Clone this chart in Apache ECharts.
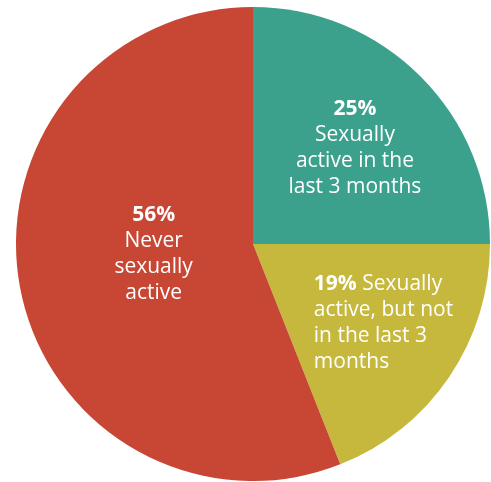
<!DOCTYPE html>
<html><head><meta charset="utf-8">
<script src="https://cdn.jsdelivr.net/npm/echarts@6/dist/echarts.min.js"></script>
<style>html,body{margin:0;padding:0;background:#fff}#c{width:491px;height:482px}</style>
</head><body><div id="c"></div>
<script>
const categories = ["Sexually active in the last 3 months", "Sexually active, but not in the last 3 months", "Never sexually active"];
const values = [25, 19, 56];
const labelTexts = [
  "{b|25%}\nSexually\nactive in the\nlast 3 months",
  "{bl|19%}{l| Sexually}\n{l|active, but not}\n{l|in the last 3}\n{l|months}",
  "{b|56%}\nNever\nsexually\nactive"
];
const colors = ["#3ba18c", "#c5b83d", "#c84634"];
const offsets = [[16, -10], [30, 11], [20, -13]];

const chart = echarts.init(document.getElementById('c'), null, {renderer: 'canvas'});
const base = {fontSize: 21, lineHeight: 26, color: '#fff', fontFamily: 'Open Sans'};
chart.setOption({
  animation: false,
  series: [{
    type: 'pie',
    center: [253, 244],
    radius: 237,
    startAngle: 90,
    clockwise: true,
    emphasis: {disabled: true},
    itemStyle: {borderWidth: 0},
    label: {
      show: true,
      position: 'inside',
      color: '#fff',
      fontFamily: 'Open Sans',
      fontSize: 21,
      lineHeight: 26,
      formatter: p => labelTexts[p.dataIndex],
      rich: {
        b: Object.assign({}, base, {fontWeight: 'bold'}),
        bl: Object.assign({}, base, {fontWeight: 'bold', align: 'left'}),
        l: Object.assign({}, base, {align: 'left'})
      }
    },
    labelLayout: p => ({dx: offsets[p.dataIndex][0], dy: offsets[p.dataIndex][1]}),
    data: categories.map((c, i) => ({name: c, value: values[i], itemStyle: {color: colors[i]}}))
  }]
});
</script></body></html>
